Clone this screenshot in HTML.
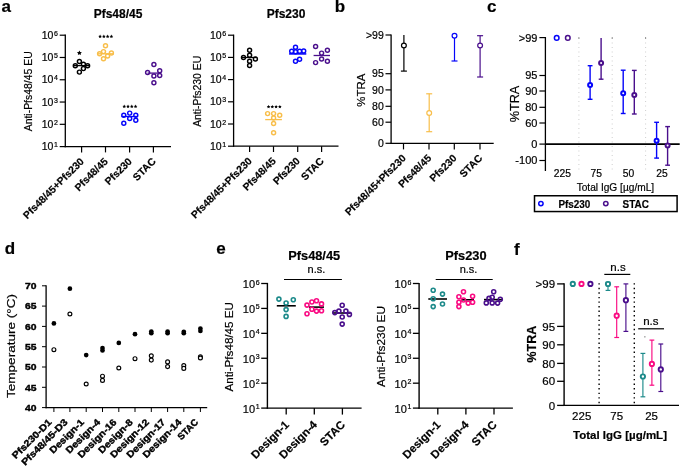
<!DOCTYPE html>
<html><head><meta charset="utf-8"><style>
html,body{margin:0;padding:0;background:#fff;}
svg{display:block;font-family:"Liberation Sans", sans-serif;will-change:transform;}
text{stroke:#000;stroke-width:0.2px;}
</style></head><body>
<svg width="685" height="469" viewBox="0 0 685 469">
<text x="1.6" y="11.9" font-size="17" text-anchor="start" fill="#000" font-weight="bold" >a</text>
<text x="334.8" y="11.8" font-size="17" text-anchor="start" fill="#000" font-weight="bold" >b</text>
<text x="487" y="11.8" font-size="17" text-anchor="start" fill="#000" font-weight="bold" >c</text>
<text x="4.8" y="254.3" font-size="17" text-anchor="start" fill="#000" font-weight="bold" >d</text>
<text x="216.3" y="254.3" font-size="17" text-anchor="start" fill="#000" font-weight="bold" >e</text>
<text x="513.9" y="255.3" font-size="17" text-anchor="start" fill="#000" font-weight="bold" >f</text>
<line x1="65.3" y1="34.6" x2="65.3" y2="147.2" stroke="#000" stroke-width="1.3" />
<line x1="64.7" y1="146.6" x2="171" y2="146.6" stroke="#000" stroke-width="1.3" />
<line x1="59.7" y1="35.2" x2="65.3" y2="35.2" stroke="#000" stroke-width="1.2" />
<text x="53.4" y="38.8" font-size="10.5" text-anchor="end" fill="#000" >10</text>
<text x="54" y="35.7" font-size="7.0" text-anchor="start" fill="#000" >6</text>
<line x1="59.7" y1="57.48" x2="65.3" y2="57.48" stroke="#000" stroke-width="1.2" />
<text x="53.4" y="61.08" font-size="10.5" text-anchor="end" fill="#000" >10</text>
<text x="54" y="57.98" font-size="7.0" text-anchor="start" fill="#000" >5</text>
<line x1="59.7" y1="79.76" x2="65.3" y2="79.76" stroke="#000" stroke-width="1.2" />
<text x="53.4" y="83.36" font-size="10.5" text-anchor="end" fill="#000" >10</text>
<text x="54" y="80.26" font-size="7.0" text-anchor="start" fill="#000" >4</text>
<line x1="59.7" y1="102.04" x2="65.3" y2="102.04" stroke="#000" stroke-width="1.2" />
<text x="53.4" y="105.64" font-size="10.5" text-anchor="end" fill="#000" >10</text>
<text x="54" y="102.54" font-size="7.0" text-anchor="start" fill="#000" >3</text>
<line x1="59.7" y1="124.32" x2="65.3" y2="124.32" stroke="#000" stroke-width="1.2" />
<text x="53.4" y="127.92" font-size="10.5" text-anchor="end" fill="#000" >10</text>
<text x="54" y="124.82" font-size="7.0" text-anchor="start" fill="#000" >2</text>
<line x1="59.7" y1="146.6" x2="65.3" y2="146.6" stroke="#000" stroke-width="1.2" />
<text x="53.4" y="150.2" font-size="10.5" text-anchor="end" fill="#000" >10</text>
<text x="54" y="147.1" font-size="7.0" text-anchor="start" fill="#000" >1</text>
<line x1="81.6" y1="146.6" x2="81.6" y2="152.4" stroke="#000" stroke-width="1.2" />
<line x1="105.5" y1="146.6" x2="105.5" y2="152.4" stroke="#000" stroke-width="1.2" />
<line x1="129.6" y1="146.6" x2="129.6" y2="152.4" stroke="#000" stroke-width="1.2" />
<line x1="153.4" y1="146.6" x2="153.4" y2="152.4" stroke="#000" stroke-width="1.2" />
<text x="84.6" y="162.1" font-size="10.3" text-anchor="end" fill="#000" font-weight="bold" transform="rotate(-45 84.6 162.1)" >Pfs48/45+Pfs230</text>
<text x="108.5" y="162.1" font-size="10.3" text-anchor="end" fill="#000" font-weight="bold" transform="rotate(-45 108.5 162.1)" >Pfs48/45</text>
<text x="132.6" y="162.1" font-size="10.3" text-anchor="end" fill="#000" font-weight="bold" transform="rotate(-45 132.6 162.1)" >Pfs230</text>
<text x="156.4" y="162.1" font-size="10.3" text-anchor="end" fill="#000" font-weight="bold" transform="rotate(-45 156.4 162.1)" >STAC</text>
<text x="118" y="18" font-size="12" text-anchor="middle" fill="#000" font-weight="bold" >Pfs48/45</text>
<text x="32.3" y="91.3" font-size="10.4" text-anchor="middle" fill="#000" transform="rotate(-90 32.3 91.3)" textLength="80" lengthAdjust="spacingAndGlyphs" >Anti-Pfs48/45 EU</text>
<circle cx="79.4" cy="61.5" r="2.0" stroke="#000" stroke-width="1.45" fill="none"/>
<circle cx="75.3" cy="65.8" r="2.0" stroke="#000" stroke-width="1.45" fill="none"/>
<circle cx="83.4" cy="64.3" r="2.0" stroke="#000" stroke-width="1.45" fill="none"/>
<circle cx="87.6" cy="65.8" r="2.0" stroke="#000" stroke-width="1.45" fill="none"/>
<circle cx="83.4" cy="68.6" r="2.0" stroke="#000" stroke-width="1.45" fill="none"/>
<circle cx="79.4" cy="72.1" r="2.0" stroke="#000" stroke-width="1.45" fill="none"/>
<line x1="73.3" y1="65.6" x2="90" y2="65.6" stroke="#000" stroke-width="1.3" />
<circle cx="105.5" cy="45.7" r="2.0" stroke="#f8be4a" stroke-width="1.45" fill="none"/>
<circle cx="99.6" cy="53.8" r="2.0" stroke="#f8be4a" stroke-width="1.45" fill="none"/>
<circle cx="103.5" cy="51.6" r="2.0" stroke="#f8be4a" stroke-width="1.45" fill="none"/>
<circle cx="111.4" cy="52.9" r="2.0" stroke="#f8be4a" stroke-width="1.45" fill="none"/>
<circle cx="107.6" cy="55.9" r="2.0" stroke="#f8be4a" stroke-width="1.45" fill="none"/>
<circle cx="103.5" cy="58.8" r="2.0" stroke="#f8be4a" stroke-width="1.45" fill="none"/>
<line x1="97" y1="53.8" x2="114" y2="53.8" stroke="#f8be4a" stroke-width="1.3" />
<circle cx="123.8" cy="115.3" r="2.0" stroke="#0505fa" stroke-width="1.45" fill="none"/>
<circle cx="129.7" cy="113.1" r="2.0" stroke="#0505fa" stroke-width="1.45" fill="none"/>
<circle cx="135.8" cy="115.3" r="2.0" stroke="#0505fa" stroke-width="1.45" fill="none"/>
<circle cx="129.7" cy="118.5" r="2.0" stroke="#0505fa" stroke-width="1.45" fill="none"/>
<circle cx="135.8" cy="120.2" r="2.0" stroke="#0505fa" stroke-width="1.45" fill="none"/>
<circle cx="123.8" cy="123.2" r="2.0" stroke="#0505fa" stroke-width="1.45" fill="none"/>
<line x1="121.6" y1="116.5" x2="137.8" y2="116.5" stroke="#0505fa" stroke-width="1.3" />
<circle cx="153.9" cy="64.4" r="2.0" stroke="#4a0f8c" stroke-width="1.45" fill="none"/>
<circle cx="147.6" cy="72.5" r="2.0" stroke="#4a0f8c" stroke-width="1.45" fill="none"/>
<circle cx="159.7" cy="70.8" r="2.0" stroke="#4a0f8c" stroke-width="1.45" fill="none"/>
<circle cx="153.9" cy="75.9" r="2.0" stroke="#4a0f8c" stroke-width="1.45" fill="none"/>
<circle cx="159.7" cy="75.5" r="2.0" stroke="#4a0f8c" stroke-width="1.45" fill="none"/>
<circle cx="153.9" cy="82.7" r="2.0" stroke="#4a0f8c" stroke-width="1.45" fill="none"/>
<line x1="147.6" y1="73.1" x2="160.6" y2="73.1" stroke="#4a0f8c" stroke-width="1.3" />
<polygon points="79.40,50.40 80.16,51.95 81.87,52.20 80.64,53.40 80.93,55.10 79.40,54.30 77.87,55.10 78.16,53.40 76.93,52.20 78.64,51.95" fill="#000"/>
<polygon points="100.09,34.60 100.65,35.73 101.90,35.91 101.00,36.79 101.21,38.04 100.09,37.45 98.98,38.04 99.19,36.79 98.29,35.91 99.54,35.73" fill="#000"/>
<polygon points="103.86,34.60 104.42,35.73 105.67,35.91 104.77,36.79 104.98,38.04 103.86,37.45 102.75,38.04 102.96,36.79 102.06,35.91 103.31,35.73" fill="#000"/>
<polygon points="107.64,34.60 108.19,35.73 109.44,35.91 108.54,36.79 108.75,38.04 107.64,37.45 106.52,38.04 106.73,36.79 105.83,35.91 107.08,35.73" fill="#000"/>
<polygon points="111.41,34.60 111.96,35.73 113.21,35.91 112.31,36.79 112.52,38.04 111.41,37.45 110.29,38.04 110.50,36.79 109.60,35.91 110.85,35.73" fill="#000"/>
<polygon points="124.25,104.60 124.80,105.73 126.05,105.91 125.15,106.79 125.36,108.04 124.25,107.45 123.13,108.04 123.34,106.79 122.44,105.91 123.69,105.73" fill="#000"/>
<polygon points="128.02,104.60 128.57,105.73 129.82,105.91 128.92,106.79 129.13,108.04 128.02,107.45 126.90,108.04 127.11,106.79 126.21,105.91 127.46,105.73" fill="#000"/>
<polygon points="131.78,104.60 132.34,105.73 133.59,105.91 132.69,106.79 132.90,108.04 131.78,107.45 130.67,108.04 130.88,106.79 129.98,105.91 131.23,105.73" fill="#000"/>
<polygon points="135.56,104.60 136.11,105.73 137.36,105.91 136.46,106.79 136.67,108.04 135.56,107.45 134.44,108.04 134.65,106.79 133.75,105.91 135.00,105.73" fill="#000"/>
<line x1="233.6" y1="34.6" x2="233.6" y2="146.8" stroke="#000" stroke-width="1.3" />
<line x1="233" y1="146.2" x2="338.5" y2="146.2" stroke="#000" stroke-width="1.3" />
<line x1="228" y1="35.2" x2="233.6" y2="35.2" stroke="#000" stroke-width="1.2" />
<text x="221.7" y="38.8" font-size="10.5" text-anchor="end" fill="#000" >10</text>
<text x="222.3" y="35.7" font-size="7.0" text-anchor="start" fill="#000" >6</text>
<line x1="228" y1="57.4" x2="233.6" y2="57.4" stroke="#000" stroke-width="1.2" />
<text x="221.7" y="61" font-size="10.5" text-anchor="end" fill="#000" >10</text>
<text x="222.3" y="57.9" font-size="7.0" text-anchor="start" fill="#000" >5</text>
<line x1="228" y1="79.6" x2="233.6" y2="79.6" stroke="#000" stroke-width="1.2" />
<text x="221.7" y="83.2" font-size="10.5" text-anchor="end" fill="#000" >10</text>
<text x="222.3" y="80.1" font-size="7.0" text-anchor="start" fill="#000" >4</text>
<line x1="228" y1="101.8" x2="233.6" y2="101.8" stroke="#000" stroke-width="1.2" />
<text x="221.7" y="105.4" font-size="10.5" text-anchor="end" fill="#000" >10</text>
<text x="222.3" y="102.3" font-size="7.0" text-anchor="start" fill="#000" >3</text>
<line x1="228" y1="124" x2="233.6" y2="124" stroke="#000" stroke-width="1.2" />
<text x="221.7" y="127.6" font-size="10.5" text-anchor="end" fill="#000" >10</text>
<text x="222.3" y="124.5" font-size="7.0" text-anchor="start" fill="#000" >2</text>
<line x1="228" y1="146.2" x2="233.6" y2="146.2" stroke="#000" stroke-width="1.2" />
<text x="221.7" y="149.8" font-size="10.5" text-anchor="end" fill="#000" >10</text>
<text x="222.3" y="146.7" font-size="7.0" text-anchor="start" fill="#000" >1</text>
<line x1="249.6" y1="146.2" x2="249.6" y2="152" stroke="#000" stroke-width="1.2" />
<line x1="273.5" y1="146.2" x2="273.5" y2="152" stroke="#000" stroke-width="1.2" />
<line x1="297.7" y1="146.2" x2="297.7" y2="152" stroke="#000" stroke-width="1.2" />
<line x1="321.6" y1="146.2" x2="321.6" y2="152" stroke="#000" stroke-width="1.2" />
<text x="252.6" y="161.7" font-size="10.3" text-anchor="end" fill="#000" font-weight="bold" transform="rotate(-45 252.6 161.7)" >Pfs48/45+Pfs230</text>
<text x="276.5" y="161.7" font-size="10.3" text-anchor="end" fill="#000" font-weight="bold" transform="rotate(-45 276.5 161.7)" >Pfs48/45</text>
<text x="300.7" y="161.7" font-size="10.3" text-anchor="end" fill="#000" font-weight="bold" transform="rotate(-45 300.7 161.7)" >Pfs230</text>
<text x="324.6" y="161.7" font-size="10.3" text-anchor="end" fill="#000" font-weight="bold" transform="rotate(-45 324.6 161.7)" >STAC</text>
<text x="286" y="18" font-size="12" text-anchor="middle" fill="#000" font-weight="bold" >Pfs230</text>
<text x="200.6" y="91.3" font-size="10.4" text-anchor="middle" fill="#000" transform="rotate(-90 200.6 91.3)" >Anti-Pfs230 EU</text>
<circle cx="249.6" cy="50.2" r="2.0" stroke="#000" stroke-width="1.45" fill="none"/>
<circle cx="249.6" cy="55.3" r="2.0" stroke="#000" stroke-width="1.45" fill="none"/>
<circle cx="243.5" cy="57.5" r="2.0" stroke="#000" stroke-width="1.45" fill="none"/>
<circle cx="255.4" cy="59" r="2.0" stroke="#000" stroke-width="1.45" fill="none"/>
<circle cx="249.6" cy="61.2" r="2.0" stroke="#000" stroke-width="1.45" fill="none"/>
<circle cx="249.6" cy="65.5" r="2.0" stroke="#000" stroke-width="1.45" fill="none"/>
<line x1="241.6" y1="57.5" x2="256.9" y2="57.5" stroke="#000" stroke-width="1.3" />
<circle cx="295.5" cy="47.3" r="2.0" stroke="#0505fa" stroke-width="1.45" fill="none"/>
<circle cx="291.7" cy="51.3" r="2.0" stroke="#0505fa" stroke-width="1.45" fill="none"/>
<circle cx="295.5" cy="51.7" r="2.0" stroke="#0505fa" stroke-width="1.45" fill="none"/>
<circle cx="299.6" cy="51.3" r="2.0" stroke="#0505fa" stroke-width="1.45" fill="none"/>
<circle cx="303.7" cy="50.9" r="2.0" stroke="#0505fa" stroke-width="1.45" fill="none"/>
<circle cx="299.6" cy="59.3" r="2.0" stroke="#0505fa" stroke-width="1.45" fill="none"/>
<circle cx="295.5" cy="61.3" r="2.0" stroke="#0505fa" stroke-width="1.45" fill="none"/>
<line x1="289.1" y1="53.9" x2="306.3" y2="53.9" stroke="#0505fa" stroke-width="1.6" />
<circle cx="315.6" cy="46.4" r="2.0" stroke="#4a0f8c" stroke-width="1.45" fill="none"/>
<circle cx="327.4" cy="50.2" r="2.0" stroke="#4a0f8c" stroke-width="1.45" fill="none"/>
<circle cx="321.6" cy="53.1" r="2.0" stroke="#4a0f8c" stroke-width="1.45" fill="none"/>
<circle cx="321.6" cy="59" r="2.0" stroke="#4a0f8c" stroke-width="1.45" fill="none"/>
<circle cx="315.6" cy="62.6" r="2.0" stroke="#4a0f8c" stroke-width="1.45" fill="none"/>
<circle cx="327.4" cy="61.3" r="2.0" stroke="#4a0f8c" stroke-width="1.45" fill="none"/>
<line x1="313.6" y1="55.5" x2="330" y2="55.5" stroke="#4a0f8c" stroke-width="1.3" />
<circle cx="267.6" cy="113.6" r="2.0" stroke="#f8be4a" stroke-width="1.45" fill="none"/>
<circle cx="273.6" cy="113.6" r="2.0" stroke="#f8be4a" stroke-width="1.45" fill="none"/>
<circle cx="279.7" cy="115.2" r="2.0" stroke="#f8be4a" stroke-width="1.45" fill="none"/>
<circle cx="273.6" cy="117.9" r="2.0" stroke="#f8be4a" stroke-width="1.45" fill="none"/>
<circle cx="273.6" cy="123.5" r="2.0" stroke="#f8be4a" stroke-width="1.45" fill="none"/>
<circle cx="273.6" cy="132.8" r="2.0" stroke="#f8be4a" stroke-width="1.45" fill="none"/>
<line x1="265.2" y1="119.6" x2="281.9" y2="119.6" stroke="#f8be4a" stroke-width="1.3" />
<polygon points="268.55,104.90 269.10,106.03 270.35,106.21 269.45,107.09 269.66,108.34 268.55,107.75 267.43,108.34 267.64,107.09 266.74,106.21 267.99,106.03" fill="#000"/>
<polygon points="272.31,104.90 272.87,106.03 274.12,106.21 273.22,107.09 273.43,108.34 272.31,107.75 271.20,108.34 271.41,107.09 270.51,106.21 271.76,106.03" fill="#000"/>
<polygon points="276.09,104.90 276.64,106.03 277.89,106.21 276.99,107.09 277.20,108.34 276.09,107.75 274.97,108.34 275.18,107.09 274.28,106.21 275.53,106.03" fill="#000"/>
<polygon points="279.86,104.90 280.41,106.03 281.66,106.21 280.76,107.09 280.97,108.34 279.86,107.75 278.74,108.34 278.95,107.09 278.05,106.21 279.30,106.03" fill="#000"/>
<line x1="391.1" y1="34.4" x2="391.1" y2="143.9" stroke="#000" stroke-width="1.3" />
<line x1="390.5" y1="143.3" x2="493.7" y2="143.3" stroke="#000" stroke-width="1.3" />
<line x1="385.5" y1="35" x2="391.1" y2="35" stroke="#000" stroke-width="1.2" />
<text x="383.8" y="38.7" font-size="10.5" text-anchor="end" fill="#000" >&gt;99</text>
<line x1="385.5" y1="73.7" x2="391.1" y2="73.7" stroke="#000" stroke-width="1.2" />
<text x="383.8" y="77.4" font-size="10.5" text-anchor="end" fill="#000" >95</text>
<line x1="385.5" y1="89.9" x2="391.1" y2="89.9" stroke="#000" stroke-width="1.2" />
<text x="383.8" y="93.6" font-size="10.5" text-anchor="end" fill="#000" >90</text>
<line x1="385.5" y1="106.3" x2="391.1" y2="106.3" stroke="#000" stroke-width="1.2" />
<text x="383.8" y="110" font-size="10.5" text-anchor="end" fill="#000" >80</text>
<line x1="385.5" y1="122.2" x2="391.1" y2="122.2" stroke="#000" stroke-width="1.2" />
<text x="383.8" y="125.9" font-size="10.5" text-anchor="end" fill="#000" >60</text>
<line x1="385.5" y1="143.3" x2="391.1" y2="143.3" stroke="#000" stroke-width="1.2" />
<text x="383.8" y="147" font-size="10.5" text-anchor="end" fill="#000" >0</text>
<line x1="403.5" y1="143.3" x2="403.5" y2="149.4" stroke="#000" stroke-width="1.2" />
<line x1="429" y1="143.3" x2="429" y2="149.4" stroke="#000" stroke-width="1.2" />
<line x1="454.3" y1="143.3" x2="454.3" y2="149.4" stroke="#000" stroke-width="1.2" />
<line x1="480" y1="143.3" x2="480" y2="149.4" stroke="#000" stroke-width="1.2" />
<text x="406.5" y="158.8" font-size="10.3" text-anchor="end" fill="#000" font-weight="bold" transform="rotate(-45 406.5 158.8)" >Pfs48/45+Pfs230</text>
<text x="432" y="158.8" font-size="10.3" text-anchor="end" fill="#000" font-weight="bold" transform="rotate(-45 432 158.8)" >Pfs48/45</text>
<text x="457.3" y="158.8" font-size="10.3" text-anchor="end" fill="#000" font-weight="bold" transform="rotate(-45 457.3 158.8)" >Pfs230</text>
<text x="483" y="158.8" font-size="10.3" text-anchor="end" fill="#000" font-weight="bold" transform="rotate(-45 483 158.8)" >STAC</text>
<text x="364.8" y="90.2" font-size="11.5" text-anchor="middle" fill="#000" transform="rotate(-90 364.8 90.2)" textLength="33" lengthAdjust="spacingAndGlyphs" >%TRA</text>
<line x1="403.9" y1="35.1" x2="403.9" y2="71.1" stroke="#000" stroke-width="1.2" />
<line x1="400.9" y1="71.1" x2="406.9" y2="71.1" stroke="#000" stroke-width="1.2" />
<circle cx="403.9" cy="45.5" r="2.4" stroke="#000" stroke-width="1.2" fill="#fff"/>
<line x1="429.2" y1="93.8" x2="429.2" y2="131.7" stroke="#f8be4a" stroke-width="1.2" />
<line x1="426.2" y1="93.8" x2="432.2" y2="93.8" stroke="#f8be4a" stroke-width="1.2" />
<line x1="426.2" y1="131.7" x2="432.2" y2="131.7" stroke="#f8be4a" stroke-width="1.2" />
<circle cx="429.2" cy="113" r="2.4" stroke="#f8be4a" stroke-width="1.2" fill="#fff"/>
<line x1="454.5" y1="35.7" x2="454.5" y2="61" stroke="#0505fa" stroke-width="1.2" />
<line x1="451.5" y1="61" x2="457.5" y2="61" stroke="#0505fa" stroke-width="1.2" />
<circle cx="454.5" cy="35.7" r="2.4" stroke="#0505fa" stroke-width="1.2" fill="#fff"/>
<line x1="480.1" y1="35.7" x2="480.1" y2="77" stroke="#4a0f8c" stroke-width="1.2" />
<line x1="477.1" y1="35.7" x2="483.1" y2="35.7" stroke="#4a0f8c" stroke-width="1.2" />
<line x1="477.1" y1="77" x2="483.1" y2="77" stroke="#4a0f8c" stroke-width="1.2" />
<circle cx="480.1" cy="45.5" r="2.4" stroke="#4a0f8c" stroke-width="1.2" fill="#fff"/>
<line x1="578.9" y1="38" x2="578.9" y2="171" stroke="#c8c8c8" stroke-width="0.9" stroke-dasharray="1 3.5"/>
<circle cx="578.9" cy="37.9" r="0.6" fill="#555"/>
<line x1="612.2" y1="38" x2="612.2" y2="171" stroke="#c8c8c8" stroke-width="0.9" stroke-dasharray="1 3.5"/>
<circle cx="612.2" cy="37.9" r="0.6" fill="#555"/>
<line x1="645.6" y1="38" x2="645.6" y2="171" stroke="#c8c8c8" stroke-width="0.9" stroke-dasharray="1 3.5"/>
<circle cx="645.6" cy="37.9" r="0.6" fill="#555"/>
<line x1="545.4" y1="37" x2="545.4" y2="171" stroke="#000" stroke-width="1.3" />
<line x1="545.4" y1="144.1" x2="679.7" y2="144.1" stroke="#000" stroke-width="1.6" />
<line x1="539.4" y1="37.6" x2="545.4" y2="37.6" stroke="#000" stroke-width="1.2" />
<text x="537.4" y="41.5" font-size="11" text-anchor="end" fill="#000" >&gt;99</text>
<line x1="539.4" y1="75.5" x2="545.4" y2="75.5" stroke="#000" stroke-width="1.2" />
<text x="537.4" y="79.4" font-size="11" text-anchor="end" fill="#000" >95</text>
<line x1="539.4" y1="91" x2="545.4" y2="91" stroke="#000" stroke-width="1.2" />
<text x="537.4" y="94.9" font-size="11" text-anchor="end" fill="#000" >90</text>
<line x1="539.4" y1="107.3" x2="545.4" y2="107.3" stroke="#000" stroke-width="1.2" />
<text x="537.4" y="111.2" font-size="11" text-anchor="end" fill="#000" >80</text>
<line x1="539.4" y1="123" x2="545.4" y2="123" stroke="#000" stroke-width="1.2" />
<text x="537.4" y="126.9" font-size="11" text-anchor="end" fill="#000" >60</text>
<line x1="539.4" y1="144.1" x2="545.4" y2="144.1" stroke="#000" stroke-width="1.2" />
<text x="537.4" y="148" font-size="11" text-anchor="end" fill="#000" >0</text>
<line x1="539.4" y1="160.5" x2="545.4" y2="160.5" stroke="#000" stroke-width="1.2" />
<text x="537.4" y="164.4" font-size="11" text-anchor="end" fill="#000" >-100</text>
<text x="518.5" y="104" font-size="12.7" text-anchor="middle" fill="#000" transform="rotate(-90 518.5 104)" textLength="36.7" lengthAdjust="spacingAndGlyphs" >%TRA</text>
<circle cx="556.7" cy="37.9" r="2.3" stroke="#0505fa" stroke-width="1.5" fill="none"/>
<circle cx="567.8" cy="37.9" r="2.3" stroke="#4a0f8c" stroke-width="1.5" fill="none"/>
<line x1="590.1" y1="65.7" x2="590.1" y2="99.3" stroke="#0505fa" stroke-width="1.4" />
<line x1="587.7" y1="65.7" x2="592.5" y2="65.7" stroke="#0505fa" stroke-width="1.4" />
<line x1="587.7" y1="99.3" x2="592.5" y2="99.3" stroke="#0505fa" stroke-width="1.4" />
<circle cx="590.1" cy="84.9" r="2.0" stroke="#0505fa" stroke-width="2.0" fill="#fff"/>
<line x1="601.1" y1="37.9" x2="601.1" y2="79.2" stroke="#4a0f8c" stroke-width="1.4" />
<line x1="598.7" y1="79.2" x2="603.5" y2="79.2" stroke="#4a0f8c" stroke-width="1.4" />
<circle cx="601.1" cy="62.9" r="2.0" stroke="#4a0f8c" stroke-width="2.0" fill="#fff"/>
<line x1="623.2" y1="70.2" x2="623.2" y2="113.5" stroke="#0505fa" stroke-width="1.4" />
<line x1="620.8" y1="70.2" x2="625.6" y2="70.2" stroke="#0505fa" stroke-width="1.4" />
<line x1="620.8" y1="113.5" x2="625.6" y2="113.5" stroke="#0505fa" stroke-width="1.4" />
<circle cx="623.2" cy="93.3" r="2.0" stroke="#0505fa" stroke-width="2.0" fill="#fff"/>
<line x1="634.3" y1="70.4" x2="634.3" y2="114" stroke="#4a0f8c" stroke-width="1.4" />
<line x1="631.9" y1="70.4" x2="636.7" y2="70.4" stroke="#4a0f8c" stroke-width="1.4" />
<line x1="631.9" y1="114" x2="636.7" y2="114" stroke="#4a0f8c" stroke-width="1.4" />
<circle cx="634.3" cy="95.1" r="2.0" stroke="#4a0f8c" stroke-width="2.0" fill="#fff"/>
<line x1="656.6" y1="122.3" x2="656.6" y2="158.1" stroke="#0505fa" stroke-width="1.4" />
<line x1="654.2" y1="122.3" x2="659" y2="122.3" stroke="#0505fa" stroke-width="1.4" />
<line x1="654.2" y1="158.1" x2="659" y2="158.1" stroke="#0505fa" stroke-width="1.4" />
<circle cx="656.6" cy="140.7" r="2.0" stroke="#0505fa" stroke-width="2.0" fill="#fff"/>
<line x1="667.6" y1="126.6" x2="667.6" y2="165.2" stroke="#4a0f8c" stroke-width="1.4" />
<line x1="665.2" y1="126.6" x2="670" y2="126.6" stroke="#4a0f8c" stroke-width="1.4" />
<line x1="665.2" y1="165.2" x2="670" y2="165.2" stroke="#4a0f8c" stroke-width="1.4" />
<circle cx="667.6" cy="145.5" r="2.0" stroke="#4a0f8c" stroke-width="2.0" fill="#fff"/>
<text x="562.3" y="177" font-size="10.3" text-anchor="middle" fill="#000" >225</text>
<text x="596.2" y="177" font-size="10.3" text-anchor="middle" fill="#000" >75</text>
<text x="628.5" y="177" font-size="10.3" text-anchor="middle" fill="#000" >50</text>
<text x="661.9" y="177" font-size="10.3" text-anchor="middle" fill="#000" >25</text>
<text x="615.4" y="190.5" font-size="10.5" text-anchor="middle" fill="#000" textLength="77.5" lengthAdjust="spacingAndGlyphs" >Total IgG [µg/mL]</text>
<rect x="534.5" y="195.75" width="142.6" height="15.8" fill="none" stroke="#000" stroke-width="1.5"/>
<circle cx="540.9" cy="203.6" r="2.2" stroke="#0505fa" stroke-width="1.5" fill="none"/>
<text x="558.4" y="207.7" font-size="10.3" text-anchor="start" fill="#000" font-weight="bold" textLength="32" lengthAdjust="spacingAndGlyphs" >Pfs230</text>
<circle cx="605.8" cy="203.6" r="2.2" stroke="#4a0f8c" stroke-width="1.5" fill="none"/>
<text x="622.6" y="207.7" font-size="10.3" text-anchor="start" fill="#000" font-weight="bold" textLength="26.3" lengthAdjust="spacingAndGlyphs" >STAC</text>
<line x1="46.1" y1="285.2" x2="46.1" y2="408.2" stroke="#000" stroke-width="1.3" />
<line x1="45.5" y1="407.6" x2="207.2" y2="407.6" stroke="#000" stroke-width="1.3" />
<line x1="42" y1="407.6" x2="46" y2="407.6" stroke="#000" stroke-width="1.0" />
<text x="36.6" y="410.9" font-size="9.2" text-anchor="end" fill="#000" font-weight="bold" textLength="11.5" lengthAdjust="spacingAndGlyphs" style="stroke-width:0.4px">40</text>
<line x1="42" y1="387.3" x2="46" y2="387.3" stroke="#000" stroke-width="1.0" />
<text x="36.6" y="390.6" font-size="9.2" text-anchor="end" fill="#000" font-weight="bold" textLength="11.5" lengthAdjust="spacingAndGlyphs" style="stroke-width:0.4px">45</text>
<line x1="42" y1="367" x2="46" y2="367" stroke="#000" stroke-width="1.0" />
<text x="36.6" y="370.3" font-size="9.2" text-anchor="end" fill="#000" font-weight="bold" textLength="11.5" lengthAdjust="spacingAndGlyphs" style="stroke-width:0.4px">50</text>
<line x1="42" y1="346.7" x2="46" y2="346.7" stroke="#000" stroke-width="1.0" />
<text x="36.6" y="350" font-size="9.2" text-anchor="end" fill="#000" font-weight="bold" textLength="11.5" lengthAdjust="spacingAndGlyphs" style="stroke-width:0.4px">55</text>
<line x1="42" y1="326.4" x2="46" y2="326.4" stroke="#000" stroke-width="1.0" />
<text x="36.6" y="329.7" font-size="9.2" text-anchor="end" fill="#000" font-weight="bold" textLength="11.5" lengthAdjust="spacingAndGlyphs" style="stroke-width:0.4px">60</text>
<line x1="42" y1="306.1" x2="46" y2="306.1" stroke="#000" stroke-width="1.0" />
<text x="36.6" y="309.4" font-size="9.2" text-anchor="end" fill="#000" font-weight="bold" textLength="11.5" lengthAdjust="spacingAndGlyphs" style="stroke-width:0.4px">65</text>
<line x1="42" y1="285.8" x2="46" y2="285.8" stroke="#000" stroke-width="1.0" />
<text x="36.6" y="289.1" font-size="9.2" text-anchor="end" fill="#000" font-weight="bold" textLength="11.5" lengthAdjust="spacingAndGlyphs" style="stroke-width:0.4px">70</text>
<text x="15" y="346" font-size="11.5" text-anchor="middle" fill="#000" transform="rotate(-90 15 346)" textLength="104" lengthAdjust="spacingAndGlyphs" >Temperature (°C)</text>
<line x1="53.9" y1="407.6" x2="53.9" y2="412" stroke="#000" stroke-width="1.0" />
<line x1="69.9" y1="407.6" x2="69.9" y2="412" stroke="#000" stroke-width="1.0" />
<line x1="86.2" y1="407.6" x2="86.2" y2="412" stroke="#000" stroke-width="1.0" />
<line x1="102.5" y1="407.6" x2="102.5" y2="412" stroke="#000" stroke-width="1.0" />
<line x1="118.8" y1="407.6" x2="118.8" y2="412" stroke="#000" stroke-width="1.0" />
<line x1="135" y1="407.6" x2="135" y2="412" stroke="#000" stroke-width="1.0" />
<line x1="151.3" y1="407.6" x2="151.3" y2="412" stroke="#000" stroke-width="1.0" />
<line x1="167.6" y1="407.6" x2="167.6" y2="412" stroke="#000" stroke-width="1.0" />
<line x1="183.8" y1="407.6" x2="183.8" y2="412" stroke="#000" stroke-width="1.0" />
<line x1="200.4" y1="407.6" x2="200.4" y2="412" stroke="#000" stroke-width="1.0" />
<text x="52.3" y="422.8" font-size="9.4" text-anchor="end" fill="#000" font-weight="bold" transform="rotate(-45 52.3 422.8)" textLength="51.51" lengthAdjust="spacingAndGlyphs" style="stroke-width:0.4px">Pfs230-D1</text>
<text x="68.3" y="422.8" font-size="9.4" text-anchor="end" fill="#000" font-weight="bold" transform="rotate(-45 68.3 422.8)" textLength="61.05" lengthAdjust="spacingAndGlyphs" style="stroke-width:0.4px">Pfs48/45-D3</text>
<text x="84.6" y="422.8" font-size="9.4" text-anchor="end" fill="#000" font-weight="bold" transform="rotate(-45 84.6 422.8)" textLength="44.27" lengthAdjust="spacingAndGlyphs" style="stroke-width:0.4px">Design-1</text>
<text x="100.9" y="422.8" font-size="9.4" text-anchor="end" fill="#000" font-weight="bold" transform="rotate(-45 100.9 422.8)" textLength="44.27" lengthAdjust="spacingAndGlyphs" style="stroke-width:0.4px">Design-4</text>
<text x="117.2" y="422.8" font-size="9.4" text-anchor="end" fill="#000" font-weight="bold" transform="rotate(-45 117.2 422.8)" textLength="50.52" lengthAdjust="spacingAndGlyphs" style="stroke-width:0.4px">Design-16</text>
<text x="133.4" y="422.8" font-size="9.4" text-anchor="end" fill="#000" font-weight="bold" transform="rotate(-45 133.4 422.8)" textLength="44.27" lengthAdjust="spacingAndGlyphs" style="stroke-width:0.4px">Design-8</text>
<text x="149.7" y="422.8" font-size="9.4" text-anchor="end" fill="#000" font-weight="bold" transform="rotate(-45 149.7 422.8)" textLength="50.52" lengthAdjust="spacingAndGlyphs" style="stroke-width:0.4px">Design-12</text>
<text x="166" y="422.8" font-size="9.4" text-anchor="end" fill="#000" font-weight="bold" transform="rotate(-45 166 422.8)" textLength="50.52" lengthAdjust="spacingAndGlyphs" style="stroke-width:0.4px">Design-17</text>
<text x="182.2" y="422.8" font-size="9.4" text-anchor="end" fill="#000" font-weight="bold" transform="rotate(-45 182.2 422.8)" textLength="50.52" lengthAdjust="spacingAndGlyphs" style="stroke-width:0.4px">Design-14</text>
<text x="198.8" y="422.8" font-size="9.4" text-anchor="end" fill="#000" font-weight="bold" transform="rotate(-45 198.8 422.8)" textLength="24.87" lengthAdjust="spacingAndGlyphs" style="stroke-width:0.4px">STAC</text>
<circle cx="53.9" cy="323.4" r="2.35" fill="#000"/>
<circle cx="69.9" cy="288.7" r="2.35" fill="#000"/>
<circle cx="86.2" cy="355.1" r="2.35" fill="#000"/>
<circle cx="102.5" cy="348" r="2.35" fill="#000"/>
<circle cx="102.5" cy="350.4" r="2.35" fill="#000"/>
<circle cx="118.8" cy="342.9" r="2.35" fill="#000"/>
<circle cx="135" cy="334.2" r="2.35" fill="#000"/>
<circle cx="151.3" cy="331.6" r="2.35" fill="#000"/>
<circle cx="151.3" cy="333.2" r="2.35" fill="#000"/>
<circle cx="167.6" cy="331.6" r="2.35" fill="#000"/>
<circle cx="167.6" cy="333.2" r="2.35" fill="#000"/>
<circle cx="183.8" cy="331.8" r="2.35" fill="#000"/>
<circle cx="183.8" cy="333.2" r="2.35" fill="#000"/>
<circle cx="200.4" cy="328.5" r="2.35" fill="#000"/>
<circle cx="200.4" cy="331" r="2.35" fill="#000"/>
<circle cx="53.9" cy="349.7" r="1.95" stroke="#000" stroke-width="1.15" fill="#fff"/>
<circle cx="69.9" cy="314" r="1.95" stroke="#000" stroke-width="1.15" fill="#fff"/>
<circle cx="86.2" cy="384" r="1.95" stroke="#000" stroke-width="1.15" fill="#fff"/>
<circle cx="102.5" cy="376.2" r="1.95" stroke="#000" stroke-width="1.15" fill="#fff"/>
<circle cx="102.5" cy="380.4" r="1.95" stroke="#000" stroke-width="1.15" fill="#fff"/>
<circle cx="118.8" cy="368" r="1.95" stroke="#000" stroke-width="1.15" fill="#fff"/>
<circle cx="135" cy="358.7" r="1.95" stroke="#000" stroke-width="1.15" fill="#fff"/>
<circle cx="151.3" cy="355.8" r="1.95" stroke="#000" stroke-width="1.15" fill="#fff"/>
<circle cx="151.3" cy="360.1" r="1.95" stroke="#000" stroke-width="1.15" fill="#fff"/>
<circle cx="167.6" cy="361.9" r="1.95" stroke="#000" stroke-width="1.15" fill="#fff"/>
<circle cx="167.6" cy="366.6" r="1.95" stroke="#000" stroke-width="1.15" fill="#fff"/>
<circle cx="183.8" cy="365.5" r="1.95" stroke="#000" stroke-width="1.15" fill="#fff"/>
<circle cx="183.8" cy="368.4" r="1.95" stroke="#000" stroke-width="1.15" fill="#fff"/>
<circle cx="200.4" cy="356.9" r="1.95" stroke="#000" stroke-width="1.15" fill="#fff"/>
<circle cx="200.4" cy="358" r="1.95" stroke="#000" stroke-width="1.15" fill="#fff"/>
<line x1="267.4" y1="282.9" x2="267.4" y2="408.7" stroke="#000" stroke-width="1.4" />
<line x1="266.8" y1="408.1" x2="361.6" y2="408.1" stroke="#000" stroke-width="1.4" />
<line x1="261.2" y1="283.5" x2="267.4" y2="283.5" stroke="#000" stroke-width="1.3" />
<text x="255.1" y="287.9" font-size="11" text-anchor="end" fill="#000" >10</text>
<text x="255.7" y="284.5" font-size="7" text-anchor="start" fill="#000" >6</text>
<line x1="261.2" y1="308.42" x2="267.4" y2="308.42" stroke="#000" stroke-width="1.3" />
<text x="255.1" y="312.82" font-size="11" text-anchor="end" fill="#000" >10</text>
<text x="255.7" y="309.42" font-size="7" text-anchor="start" fill="#000" >5</text>
<line x1="261.2" y1="333.34" x2="267.4" y2="333.34" stroke="#000" stroke-width="1.3" />
<text x="255.1" y="337.74" font-size="11" text-anchor="end" fill="#000" >10</text>
<text x="255.7" y="334.34" font-size="7" text-anchor="start" fill="#000" >4</text>
<line x1="261.2" y1="358.26" x2="267.4" y2="358.26" stroke="#000" stroke-width="1.3" />
<text x="255.1" y="362.66" font-size="11" text-anchor="end" fill="#000" >10</text>
<text x="255.7" y="359.26" font-size="7" text-anchor="start" fill="#000" >3</text>
<line x1="261.2" y1="383.18" x2="267.4" y2="383.18" stroke="#000" stroke-width="1.3" />
<text x="255.1" y="387.58" font-size="11" text-anchor="end" fill="#000" >10</text>
<text x="255.7" y="384.18" font-size="7" text-anchor="start" fill="#000" >2</text>
<line x1="261.2" y1="408.1" x2="267.4" y2="408.1" stroke="#000" stroke-width="1.3" />
<text x="255.1" y="412.5" font-size="11" text-anchor="end" fill="#000" >10</text>
<text x="255.7" y="409.1" font-size="7" text-anchor="start" fill="#000" >1</text>
<line x1="286.2" y1="408.1" x2="286.2" y2="414.6" stroke="#000" stroke-width="1.3" />
<line x1="314.3" y1="408.1" x2="314.3" y2="414.6" stroke="#000" stroke-width="1.3" />
<line x1="342.4" y1="408.1" x2="342.4" y2="414.6" stroke="#000" stroke-width="1.3" />
<text x="289.7" y="425.4" font-size="11.4" text-anchor="end" fill="#000" font-weight="bold" transform="rotate(-45 289.7 425.4)" >Design-1</text>
<text x="317.8" y="425.4" font-size="11.4" text-anchor="end" fill="#000" font-weight="bold" transform="rotate(-45 317.8 425.4)" >Design-4</text>
<text x="345.9" y="425.4" font-size="11.4" text-anchor="end" fill="#000" font-weight="bold" transform="rotate(-45 345.9 425.4)" >STAC</text>
<text x="314.2" y="260" font-size="12.8" text-anchor="middle" fill="#000" font-weight="bold" >Pfs48/45</text>
<text x="316.4" y="273" font-size="11" text-anchor="middle" fill="#000" >n.s.</text>
<line x1="284" y1="279.4" x2="341.9" y2="279.4" stroke="#000" stroke-width="1.05" />
<text x="233.3" y="346.7" font-size="11.7" text-anchor="middle" fill="#000" transform="rotate(-90 233.3 346.7)" textLength="89.5" lengthAdjust="spacingAndGlyphs" >Anti-Pfs48/45 EU</text>
<line x1="276.8" y1="305.8" x2="295.8" y2="305.8" stroke="#000" stroke-width="1.6" />
<circle cx="278.9" cy="299.1" r="2.0" stroke="#1c8a8a" stroke-width="1.6" fill="none"/>
<circle cx="293.3" cy="299.7" r="2.0" stroke="#1c8a8a" stroke-width="1.6" fill="none"/>
<circle cx="286.1" cy="303" r="2.0" stroke="#1c8a8a" stroke-width="1.6" fill="none"/>
<circle cx="286.1" cy="309.6" r="2.0" stroke="#1c8a8a" stroke-width="1.6" fill="none"/>
<circle cx="286.1" cy="316.4" r="2.0" stroke="#1c8a8a" stroke-width="1.6" fill="none"/>
<line x1="309" y1="307.1" x2="324" y2="307.1" stroke="#000" stroke-width="1.6" />
<circle cx="307" cy="305.1" r="2.0" stroke="#fa0a82" stroke-width="1.6" fill="none"/>
<circle cx="311.9" cy="302" r="2.0" stroke="#fa0a82" stroke-width="1.6" fill="none"/>
<circle cx="316.5" cy="300.8" r="2.0" stroke="#fa0a82" stroke-width="1.6" fill="none"/>
<circle cx="321.5" cy="303.9" r="2.0" stroke="#fa0a82" stroke-width="1.6" fill="none"/>
<circle cx="311.9" cy="309.2" r="2.0" stroke="#fa0a82" stroke-width="1.6" fill="none"/>
<circle cx="316.5" cy="311.1" r="2.0" stroke="#fa0a82" stroke-width="1.6" fill="none"/>
<circle cx="321.5" cy="310.8" r="2.0" stroke="#fa0a82" stroke-width="1.6" fill="none"/>
<circle cx="307" cy="313.8" r="2.0" stroke="#fa0a82" stroke-width="1.6" fill="none"/>
<line x1="332.7" y1="313" x2="350.6" y2="313" stroke="#000" stroke-width="1.6" />
<circle cx="342.2" cy="305.3" r="2.0" stroke="#4a0f8c" stroke-width="1.6" fill="none"/>
<circle cx="334.8" cy="312.6" r="2.0" stroke="#4a0f8c" stroke-width="1.6" fill="none"/>
<circle cx="338.9" cy="311.1" r="2.0" stroke="#4a0f8c" stroke-width="1.6" fill="none"/>
<circle cx="345.9" cy="311.1" r="2.0" stroke="#4a0f8c" stroke-width="1.6" fill="none"/>
<circle cx="349.4" cy="314.4" r="2.0" stroke="#4a0f8c" stroke-width="1.6" fill="none"/>
<circle cx="342.2" cy="317" r="2.0" stroke="#4a0f8c" stroke-width="1.6" fill="none"/>
<circle cx="342.2" cy="324.1" r="2.0" stroke="#4a0f8c" stroke-width="1.6" fill="none"/>
<line x1="419.1" y1="282.9" x2="419.1" y2="408.7" stroke="#000" stroke-width="1.4" />
<line x1="418.5" y1="408.1" x2="512.9" y2="408.1" stroke="#000" stroke-width="1.4" />
<line x1="412.9" y1="283.5" x2="419.1" y2="283.5" stroke="#000" stroke-width="1.3" />
<text x="406.8" y="287.9" font-size="11" text-anchor="end" fill="#000" >10</text>
<text x="407.4" y="284.5" font-size="7" text-anchor="start" fill="#000" >6</text>
<line x1="412.9" y1="308.42" x2="419.1" y2="308.42" stroke="#000" stroke-width="1.3" />
<text x="406.8" y="312.82" font-size="11" text-anchor="end" fill="#000" >10</text>
<text x="407.4" y="309.42" font-size="7" text-anchor="start" fill="#000" >5</text>
<line x1="412.9" y1="333.34" x2="419.1" y2="333.34" stroke="#000" stroke-width="1.3" />
<text x="406.8" y="337.74" font-size="11" text-anchor="end" fill="#000" >10</text>
<text x="407.4" y="334.34" font-size="7" text-anchor="start" fill="#000" >4</text>
<line x1="412.9" y1="358.26" x2="419.1" y2="358.26" stroke="#000" stroke-width="1.3" />
<text x="406.8" y="362.66" font-size="11" text-anchor="end" fill="#000" >10</text>
<text x="407.4" y="359.26" font-size="7" text-anchor="start" fill="#000" >3</text>
<line x1="412.9" y1="383.18" x2="419.1" y2="383.18" stroke="#000" stroke-width="1.3" />
<text x="406.8" y="387.58" font-size="11" text-anchor="end" fill="#000" >10</text>
<text x="407.4" y="384.18" font-size="7" text-anchor="start" fill="#000" >2</text>
<line x1="412.9" y1="408.1" x2="419.1" y2="408.1" stroke="#000" stroke-width="1.3" />
<text x="406.8" y="412.5" font-size="11" text-anchor="end" fill="#000" >10</text>
<text x="407.4" y="409.1" font-size="7" text-anchor="start" fill="#000" >1</text>
<line x1="437.8" y1="408.1" x2="437.8" y2="414.6" stroke="#000" stroke-width="1.3" />
<line x1="465.9" y1="408.1" x2="465.9" y2="414.6" stroke="#000" stroke-width="1.3" />
<line x1="494" y1="408.1" x2="494" y2="414.6" stroke="#000" stroke-width="1.3" />
<text x="441.3" y="425.4" font-size="11.4" text-anchor="end" fill="#000" font-weight="bold" transform="rotate(-45 441.3 425.4)" >Design-1</text>
<text x="469.4" y="425.4" font-size="11.4" text-anchor="end" fill="#000" font-weight="bold" transform="rotate(-45 469.4 425.4)" >Design-4</text>
<text x="497.5" y="425.4" font-size="11.4" text-anchor="end" fill="#000" font-weight="bold" transform="rotate(-45 497.5 425.4)" >STAC</text>
<text x="465.9" y="260" font-size="12.8" text-anchor="middle" fill="#000" font-weight="bold" >Pfs230</text>
<text x="468.5" y="273" font-size="11" text-anchor="middle" fill="#000" >n.s.</text>
<line x1="435.7" y1="279.4" x2="492.7" y2="279.4" stroke="#000" stroke-width="1.05" />
<text x="385" y="346.5" font-size="11.7" text-anchor="middle" fill="#000" transform="rotate(-90 385 346.5)" textLength="81" lengthAdjust="spacingAndGlyphs" >Anti-Pfs230 EU</text>
<line x1="428.3" y1="299" x2="447" y2="299" stroke="#000" stroke-width="1.6" />
<circle cx="433.2" cy="290.3" r="2.0" stroke="#1c8a8a" stroke-width="1.6" fill="none"/>
<circle cx="442.5" cy="294.1" r="2.0" stroke="#1c8a8a" stroke-width="1.6" fill="none"/>
<circle cx="433.2" cy="298.7" r="2.0" stroke="#1c8a8a" stroke-width="1.6" fill="none"/>
<circle cx="442.5" cy="304" r="2.0" stroke="#1c8a8a" stroke-width="1.6" fill="none"/>
<circle cx="433.2" cy="306.6" r="2.0" stroke="#1c8a8a" stroke-width="1.6" fill="none"/>
<line x1="462" y1="299.8" x2="474" y2="299.8" stroke="#000" stroke-width="1.6" />
<circle cx="463.5" cy="291.8" r="2.0" stroke="#fa0a82" stroke-width="1.6" fill="none"/>
<circle cx="458.9" cy="296.7" r="2.0" stroke="#fa0a82" stroke-width="1.6" fill="none"/>
<circle cx="472.6" cy="296.3" r="2.0" stroke="#fa0a82" stroke-width="1.6" fill="none"/>
<circle cx="463.5" cy="300" r="2.0" stroke="#fa0a82" stroke-width="1.6" fill="none"/>
<circle cx="458.9" cy="302.2" r="2.0" stroke="#fa0a82" stroke-width="1.6" fill="none"/>
<circle cx="468.2" cy="303.1" r="2.0" stroke="#fa0a82" stroke-width="1.6" fill="none"/>
<circle cx="472.6" cy="302.2" r="2.0" stroke="#fa0a82" stroke-width="1.6" fill="none"/>
<circle cx="458.9" cy="306.6" r="2.0" stroke="#fa0a82" stroke-width="1.6" fill="none"/>
<line x1="484" y1="299.6" x2="502.7" y2="299.6" stroke="#000" stroke-width="1.6" />
<circle cx="493.7" cy="291.8" r="2.0" stroke="#4a0f8c" stroke-width="1.6" fill="none"/>
<circle cx="489" cy="298.4" r="2.0" stroke="#4a0f8c" stroke-width="1.6" fill="none"/>
<circle cx="492.2" cy="297.3" r="2.0" stroke="#4a0f8c" stroke-width="1.6" fill="none"/>
<circle cx="500.3" cy="299.2" r="2.0" stroke="#4a0f8c" stroke-width="1.6" fill="none"/>
<circle cx="486.3" cy="302.9" r="2.0" stroke="#4a0f8c" stroke-width="1.6" fill="none"/>
<circle cx="492.2" cy="302.9" r="2.0" stroke="#4a0f8c" stroke-width="1.6" fill="none"/>
<circle cx="497.6" cy="303.1" r="2.0" stroke="#4a0f8c" stroke-width="1.6" fill="none"/>
<line x1="599.1" y1="283.2" x2="599.1" y2="405" stroke="#000" stroke-width="1.4" stroke-dasharray="1.4 3.16"/>
<line x1="634.3" y1="283.2" x2="634.3" y2="405" stroke="#000" stroke-width="1.4" stroke-dasharray="1.4 3.16"/>
<line x1="564.1" y1="283.3" x2="564.1" y2="406" stroke="#000" stroke-width="1.4" />
<line x1="563.5" y1="405.4" x2="679" y2="405.4" stroke="#000" stroke-width="1.4" />
<line x1="557.1" y1="283.9" x2="564.1" y2="283.9" stroke="#000" stroke-width="1.3" />
<text x="555.1" y="288" font-size="11.5" text-anchor="end" fill="#000" >&gt;99</text>
<line x1="557.1" y1="326.4" x2="564.1" y2="326.4" stroke="#000" stroke-width="1.3" />
<text x="555.1" y="330.5" font-size="11.5" text-anchor="end" fill="#000" >95</text>
<line x1="557.1" y1="344.8" x2="564.1" y2="344.8" stroke="#000" stroke-width="1.3" />
<text x="555.1" y="348.9" font-size="11.5" text-anchor="end" fill="#000" >90</text>
<line x1="557.1" y1="363.4" x2="564.1" y2="363.4" stroke="#000" stroke-width="1.3" />
<text x="555.1" y="367.5" font-size="11.5" text-anchor="end" fill="#000" >80</text>
<line x1="557.1" y1="381.3" x2="564.1" y2="381.3" stroke="#000" stroke-width="1.3" />
<text x="555.1" y="385.4" font-size="11.5" text-anchor="end" fill="#000" >60</text>
<line x1="557.1" y1="405.4" x2="564.1" y2="405.4" stroke="#000" stroke-width="1.3" />
<text x="555.1" y="409.5" font-size="11.5" text-anchor="end" fill="#000" >0</text>
<text x="536.4" y="344.2" font-size="12.5" text-anchor="middle" fill="#000" font-weight="bold" transform="rotate(-90 536.4 344.2)" textLength="36.7" lengthAdjust="spacingAndGlyphs" >%TRA</text>
<circle cx="572.8" cy="283.9" r="2.15" stroke="#1c8a8a" stroke-width="1.9" fill="none"/>
<circle cx="581.5" cy="283.9" r="2.15" stroke="#fa0a82" stroke-width="1.9" fill="none"/>
<circle cx="590.4" cy="283.9" r="2.15" stroke="#4a0f8c" stroke-width="1.9" fill="none"/>
<line x1="608" y1="282.3" x2="608" y2="290.4" stroke="#1c8a8a" stroke-width="1.15" />
<line x1="605.6" y1="282.3" x2="610.4" y2="282.3" stroke="#1c8a8a" stroke-width="1.2" />
<line x1="605.6" y1="290.4" x2="610.4" y2="290.4" stroke="#1c8a8a" stroke-width="1.2" />
<circle cx="608" cy="284" r="2.15" stroke="#1c8a8a" stroke-width="1.9" fill="#fff"/>
<line x1="616.7" y1="286.8" x2="616.7" y2="337.5" stroke="#fa0a82" stroke-width="1.15" />
<line x1="614.3" y1="286.8" x2="619.1" y2="286.8" stroke="#fa0a82" stroke-width="1.2" />
<line x1="614.3" y1="337.5" x2="619.1" y2="337.5" stroke="#fa0a82" stroke-width="1.2" />
<circle cx="616.7" cy="315.7" r="2.15" stroke="#fa0a82" stroke-width="1.9" fill="#fff"/>
<line x1="625.9" y1="283.9" x2="625.9" y2="331.4" stroke="#4a0f8c" stroke-width="1.15" />
<line x1="623.5" y1="283.9" x2="628.3" y2="283.9" stroke="#4a0f8c" stroke-width="1.2" />
<line x1="623.5" y1="331.4" x2="628.3" y2="331.4" stroke="#4a0f8c" stroke-width="1.2" />
<circle cx="625.9" cy="300.2" r="2.15" stroke="#4a0f8c" stroke-width="1.9" fill="#fff"/>
<line x1="642.9" y1="353.4" x2="642.9" y2="396.8" stroke="#1c8a8a" stroke-width="1.15" />
<line x1="640.5" y1="353.4" x2="645.3" y2="353.4" stroke="#1c8a8a" stroke-width="1.2" />
<line x1="640.5" y1="396.8" x2="645.3" y2="396.8" stroke="#1c8a8a" stroke-width="1.2" />
<circle cx="642.9" cy="376.5" r="2.15" stroke="#1c8a8a" stroke-width="1.9" fill="#fff"/>
<line x1="651.9" y1="340.1" x2="651.9" y2="385.2" stroke="#fa0a82" stroke-width="1.15" />
<line x1="649.5" y1="340.1" x2="654.3" y2="340.1" stroke="#fa0a82" stroke-width="1.2" />
<line x1="649.5" y1="385.2" x2="654.3" y2="385.2" stroke="#fa0a82" stroke-width="1.2" />
<circle cx="651.9" cy="363.9" r="2.15" stroke="#fa0a82" stroke-width="1.9" fill="#fff"/>
<line x1="660.8" y1="344" x2="660.8" y2="391.5" stroke="#4a0f8c" stroke-width="1.15" />
<line x1="658.4" y1="344" x2="663.2" y2="344" stroke="#4a0f8c" stroke-width="1.2" />
<line x1="658.4" y1="391.5" x2="663.2" y2="391.5" stroke="#4a0f8c" stroke-width="1.2" />
<circle cx="660.8" cy="369.4" r="2.15" stroke="#4a0f8c" stroke-width="1.9" fill="#fff"/>
<text x="618" y="271" font-size="11.5" text-anchor="middle" fill="#000" >n.s</text>
<line x1="604.3" y1="274.4" x2="630.3" y2="274.4" stroke="#000" stroke-width="1.2" />
<text x="650.8" y="325.3" font-size="11.5" text-anchor="middle" fill="#000" >n.s</text>
<line x1="638.2" y1="328.8" x2="664" y2="328.8" stroke="#000" stroke-width="1.2" />
<circle cx="644.9" cy="336.8" r="0.6" fill="#444"/>
<text x="581.7" y="420" font-size="11.5" text-anchor="middle" fill="#000" >225</text>
<text x="616.7" y="420" font-size="11.5" text-anchor="middle" fill="#000" >75</text>
<text x="651.6" y="420" font-size="11.5" text-anchor="middle" fill="#000" >25</text>
<text x="620" y="438.6" font-size="11.5" text-anchor="middle" fill="#000" font-weight="bold" >Total IgG [µg/mL]</text>
</svg>
</body></html>
